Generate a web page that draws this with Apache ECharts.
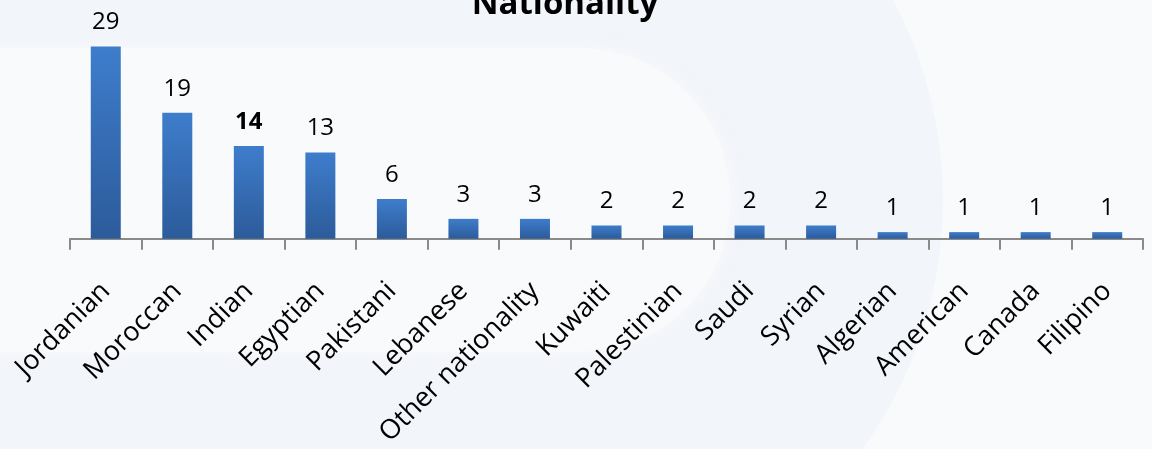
<!DOCTYPE html>
<html>
<head>
<meta charset="utf-8">
<script src="https://cdn.jsdelivr.net/npm/echarts@6/dist/echarts.min.js"></script>
<style>
  html, body { margin: 0; padding: 0; background: #F9FAFC; }
  #chart { width: 1152px; height: 449px; }
</style>
</head>
<body>
<div id="chart"></div>
<script>
  // nationality counts
  var categories = ['Jordanian', 'Moroccan', 'Indian', 'Egyptian', 'Pakistani', 'Lebanese',
    'Other nationality', 'Kuwaiti', 'Palestinian', 'Saudi', 'Syrian', 'Algerian',
    'American', 'Canada', 'Filipino']
  var counts = [29, 19, 14, 13, 6, 3, 3, 2, 2, 2, 2, 1, 1, 1, 1]
  var boldLabels = ['Indian']

  var seriesData = counts.map(function (v, i) {
    var item = { value: v }
    if (boldLabels.indexOf(categories[i]) >= 0) {
      item.label = { fontWeight: 'bold' }
    }
    return item
  })

  var chart = echarts.init(document.getElementById('chart'))
  chart.setOption({
    backgroundColor: '#F9FAFC',
    animation: false,
    graphic: [
      { type: 'rect', z: -10, silent: true, shape: { x: 0, y: 0, width: 518, height: 449 },
        style: { fill: '#F2F5FA' } },
      { type: 'circle', z: -10, silent: true, shape: { cx: 518, cy: 200, r: 425 },
        style: { fill: '#F2F5FA' } },
      { type: 'rect', z: -9, silent: true,
        shape: { x: -20, y: 48, width: 750, height: 304, r: [0, 150, 150, 0] },
        style: { fill: '#F9FAFC', shadowBlur: 20, shadowColor: 'rgba(249,250,252,0.9)' } }
    ],
    title: {
      text: 'Nationality',
      left: 560,
      textAlign: 'center',
      top: -17,
      textStyle: { fontFamily: 'Open Sans', fontSize: 33, fontWeight: 'bold', color: '#000' }
    },
    grid: { left: 70, right: 9, top: 40, bottom: 209, containLabel: false },
    xAxis: {
      type: 'category',
      data: categories,
      axisLine: { lineStyle: { color: '#8A8A8A', width: 2 } },
      axisTick: { show: true, length: 11, lineStyle: { color: '#8A8A8A', width: 2 } },
      axisLabel: {
        rotate: 45,
        interval: 0,
        margin: 48,
        fontFamily: 'Open Sans',
        fontSize: 27,
        color: '#000'
      }
    },
    yAxis: {
      type: 'value',
      min: 0,
      max: 30,
      show: false
    },
    series: [{
      type: 'bar',
      data: seriesData,
      barWidth: 30,
      itemStyle: {
        color: new echarts.graphic.LinearGradient(0, 0, 0, 1, [
          { offset: 0, color: '#3E7DCC' },
          { offset: 1, color: '#2C5B9A' }
        ])
      },
      label: {
        show: true,
        position: 'top',
        distance: 12,
        fontFamily: 'Open Sans',
        fontSize: 24,
        color: '#000'
      }
    }]
  })
</script>
</body>
</html>
